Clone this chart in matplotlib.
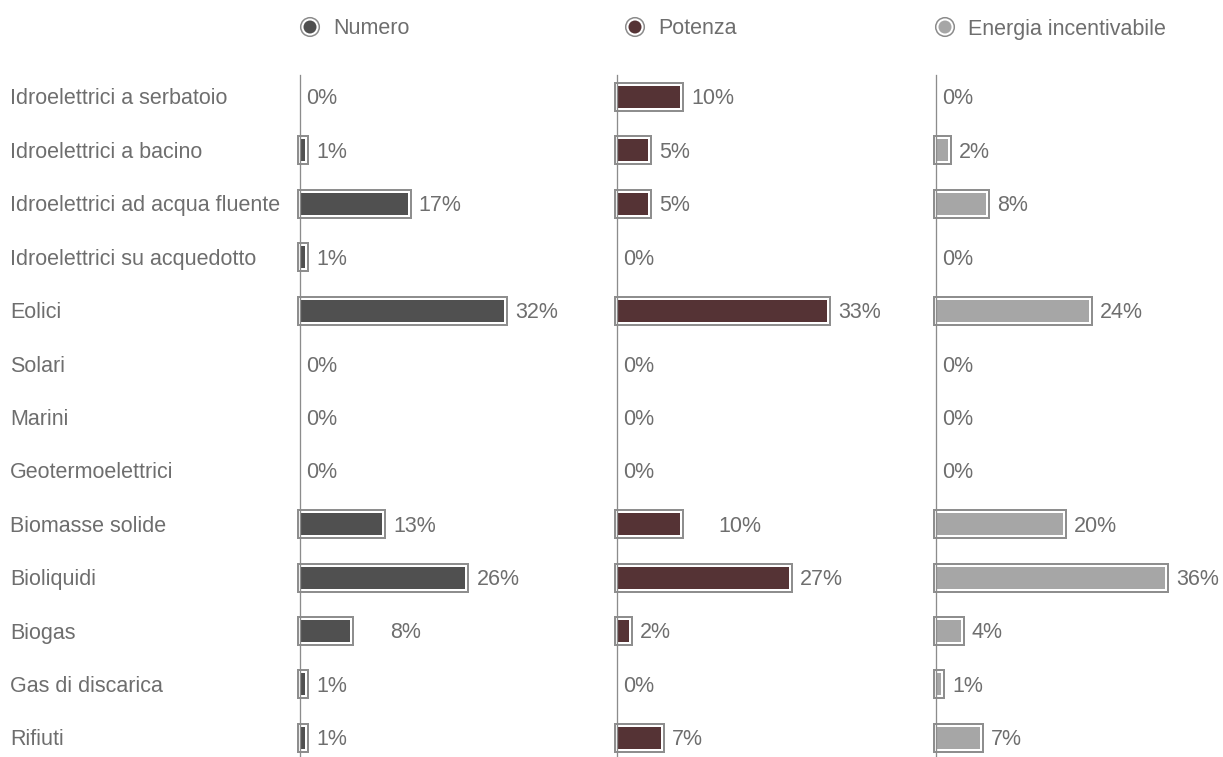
import matplotlib
matplotlib.use("Agg")
import matplotlib.pyplot as plt
import matplotlib.patheffects as pe

categories = [
    "Idroelettrici a serbatoio",
    "Idroelettrici a bacino",
    "Idroelettrici ad acqua fluente",
    "Idroelettrici su acquedotto",
    "Eolici",
    "Solari",
    "Marini",
    "Geotermoelettrici",
    "Biomasse solide",
    "Bioliquidi",
    "Biogas",
    "Gas di discarica",
    "Rifiuti",
]
series_names = ["Numero", "Potenza", "Energia incentivabile"]
numero = [0, 1, 17, 1, 32, 0, 0, 0, 13, 26, 8, 1, 1]
potenza = [10, 5, 5, 0, 33, 0, 0, 0, 10, 27, 2, 0, 7]
energia = [0, 2, 8, 0, 24, 0, 0, 0, 20, 36, 4, 1, 7]
series_values = [numero, potenza, energia]
colors = ["#505050", "#553335", "#a6a6a6"]

# a few value labels sit further to the right (pixels)
label_nudge = {(0, "Biogas"): 29, (1, "Biomasse solide"): 27}

W, H, DPI = 1223, 757, 100
fig = plt.figure(figsize=(W / DPI, H / DPI), dpi=DPI)
FONT = "Liberation Sans"
TXT = "#6e6e6e"
FS = 15.5
TEXT_DROP = 2  # px: optical centring of text on the row

px_per_pct = 6.4
axis_x = [300, 617, 936]
legend_x = [310, 635, 945]
panel_w = 287
top_px, bottom_px = 75, 757
row0, row_step = 97, 53.4


def px(v):
    return v / DPI * 72  # pixels to points


for k, (name, vals, col) in enumerate(zip(series_names, series_values, colors)):
    ax = fig.add_axes([axis_x[k] / W, 0, panel_w / W, (bottom_px - top_px) / H])
    ax.set_xlim(0, panel_w / px_per_pct)
    ax.set_ylim((bottom_px - row0) / row_step, -(row0 - top_px) / row_step)
    ax.axis("off")
    ax.axvline(0, color="#8c8c8c", lw=px(1.3), zorder=5, clip_on=False)
    ypos = list(range(len(categories)))
    bars = ax.barh(ypos, vals, height=24 / row_step, color=col,
                   edgecolor="white", linewidth=px(2), zorder=3)
    for b, v in zip(bars, vals):
        b.set_joinstyle("miter")
        b.set_clip_on(False)
        b.set_path_effects([pe.withStroke(linewidth=px(6), foreground="#8e8e8e",
                                          joinstyle="miter"), pe.Normal()])
        if v == 0:
            b.set_visible(False)
    for i, (cat, v) in enumerate(zip(categories, vals)):
        off = (10 if v > 0 else 6) + label_nudge.get((k, cat), 0)
        ax.annotate(f"{v}%", (v, i), xytext=(px(off), -px(TEXT_DROP)),
                    textcoords="offset points", ha="left", va="center",
                    fontsize=FS, color=TXT, family=FONT)

    # legend entry: ringed dot + series name
    cx, cy = legend_x[k], 27
    fig.text((cx + 23) / W, 1 - (cy + TEXT_DROP) / H, name, ha="left", va="center",
             fontsize=FS, color=TXT, family=FONT)
    lax = fig.add_axes([(cx - 12) / W, 1 - (cy + 12) / H, 24 / W, 24 / H])
    lax.set_xlim(-12, 12)
    lax.set_ylim(-12, 12)
    lax.axis("off")
    lax.add_patch(plt.Circle((0, 0), 9.3, facecolor="white", edgecolor="#8a8a8a", lw=px(1.5)))
    lax.add_patch(plt.Circle((0, 0), 6.5, facecolor=col, edgecolor="none"))

for i, cat in enumerate(categories):
    fig.text(10 / W, 1 - (row0 + i * row_step + TEXT_DROP) / H, cat, ha="left",
             va="center", fontsize=FS, color=TXT, family=FONT)

fig.savefig("out.png", dpi=DPI, facecolor="white")
